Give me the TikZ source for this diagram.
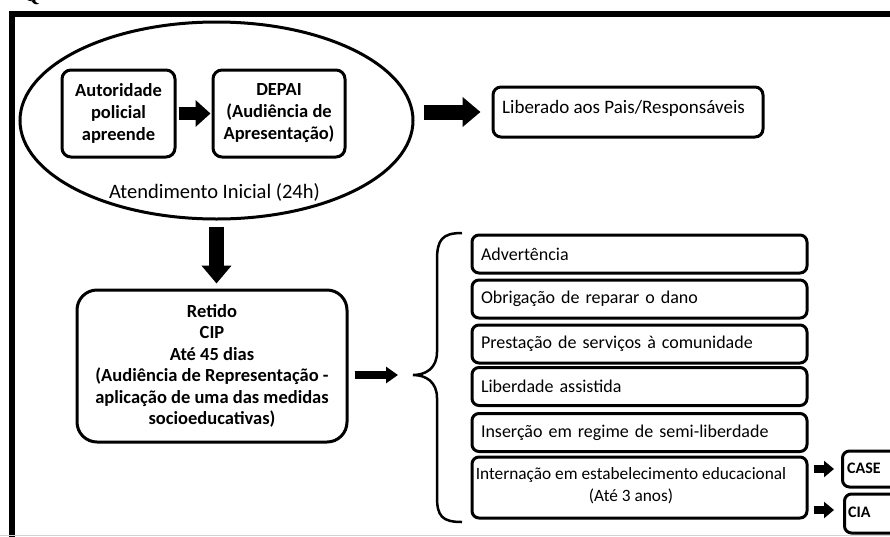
\documentclass[tikz,border=0pt]{standalone}
\usepackage{fontspec}
\setmainfont{Carlito}
\newfontfamily\qfont{Liberation Serif}
\usetikzlibrary{arrows.meta,shapes.geometric}
\begin{document}
\begin{tikzpicture}[x=1pt,y=-1pt,
  box/.style={draw, line width=3pt, rounded corners=9pt, inner sep=0pt, align=center},
  rbox/.style={box, rounded corners=7pt, minimum width=335pt, minimum height=38pt, text width=317pt, align=left, font=\fontsize{18}{21}\selectfont},
  txt/.style={inner sep=0pt, align=center, font=\fontsize{19}{22}\selectfont},
  btxt/.style={txt, font=\fontsize{18.5}{22}\selectfont\bfseries},
  bigarrow/.style={line width=15pt, -{Triangle[length=18pt,width=29pt]}},
  midarrow/.style={line width=13pt, -{Triangle[length=15pt,width=26pt]}},
  smallarrow/.style={line width=8pt, -{Triangle[length=12pt,width=16pt]}},
  tinyarrow/.style={line width=8pt, -{Triangle[length=10pt,width=16pt]}}
]
\clip (0,0) rectangle (890,536);
\fill[white] (0,0) rectangle (890,536);
% partial title glyph
\node[inner sep=0pt, anchor=base west, font=\qfont\bfseries\fontsize{20}{24}\selectfont] (qt) at (24,1) {Q};
% frame
\draw[line width=6pt] (12,545) -- (12,14) -- (900,14);
\draw[gray!35, line width=1pt] (0,535.5) -- (890,535.5);
% ellipse group
\node[ellipse, draw, line width=3pt, minimum width=393pt, minimum height=197pt, inner sep=0pt] (ell) at (216.5,120.5) {};
\node[box, minimum width=113pt, minimum height=87pt, btxt] (aut) at (118.5,113.5) {Autoridade\\policial\\apreende};
\node[box, minimum width=132pt, minimum height=87pt, btxt] (dep) at (279,113.5) {DEPAI\\(Audiência de\\Apresentação)};
\node[txt, font=\fontsize{20.5}{24}\selectfont] (ati) at (214.5,192) {Atendimento Inicial (24h)};
\draw[midarrow, shorten <=2pt, shorten >=1pt] (aut.east) -- (dep.west);
% liberado
\node[box, minimum width=270pt, minimum height=50pt, rounded corners=8pt] (lib) at (628,112) {};
\node[txt, anchor=west] (libt) at (502,108) {Liberado aos Pais/Responsáveis};
\draw[bigarrow, shorten <=9pt, shorten >=11pt] (ell.east |- lib) -- (lib.west);
% retido
\node[box, minimum width=270pt, minimum height=152pt, rounded corners=20pt, btxt, font=\fontsize{18.5}{21.5}\selectfont\bfseries] (ret) at (212,366) {Retido\\CIP\\Até 45 dias\\(Audiência de Representação -\\aplicação de uma das medidas\\socioeducativas)};
\draw[bigarrow, shorten <=6pt, shorten >=5pt] (ell.south) -- (ell.south |- ret.north);
% brace
\coordinate (bt) at (413,375);
\draw[line width=2.5pt] (462,233) .. controls (442,233) and (437,240) .. (437,260) -- (437,352) .. controls (437,368) and (426,375) .. (bt) .. controls (426,375) and (437,382) .. (437,398) -- (437,497) .. controls (437,516) and (442,522) .. (462,522);
\draw[smallarrow, shorten <=6pt, shorten >=15pt] (ret.east |- bt) -- (bt);
% measures
\node[rbox] (adv) at (639.5,254) {Advertência};
\node[rbox] (obr) at (639.5,299) {Obrigação de reparar o dano};
\node[rbox] (pre) at (639.5,344) {Prestação de serviços à comunidade};
\node[rbox] (lbd) at (639.5,386.5) {Liberdade assistida};
\node[rbox] (ins) at (639.5,432.5) {Inserção em regime de semi-liberdade};
\node[rbox, minimum height=61pt] (int) at (639.5,487.5) {};
\node[txt, font=\fontsize{17.3}{22}\selectfont] (intt) at (631,486) {Internação em estabelecimento educacional\\(Até 3 anos)};
% CASE / CIA
\node[box, rounded corners=7pt, minimum width=60pt, minimum height=36pt, anchor=west] (case) at (841,469) {};
\node[inner sep=0pt, anchor=west, font=\fontsize{16}{18}\selectfont\bfseries] (caset) at (847,468) {CASE};
\node[box, rounded corners=7pt, minimum width=60pt, minimum height=39pt, anchor=west] (cia) at (843,513.5) {};
\node[inner sep=0pt, anchor=west, font=\fontsize{16}{18}\selectfont\bfseries] (ciat) at (848,512) {CIA};
\draw[tinyarrow, shorten <=5pt, shorten >=7pt] (int.east |- case) -- (case.west);
\draw[tinyarrow, shorten <=5pt, shorten >=9pt] (int.east |- 0,510) -- (cia.west |- 0,510);
\end{tikzpicture}
\end{document}
